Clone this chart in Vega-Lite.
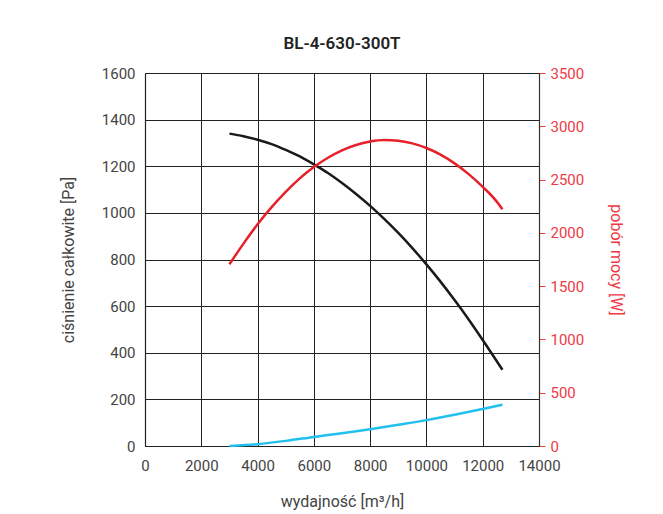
{
  "$schema": "https://vega.github.io/schema/vega-lite/v6.json",
  "width": 394,
  "height": 373,
  "autosize": "none",
  "padding": {"left": 145, "top": 73, "right": 124, "bottom": 68},
  "background": "white",
  "title": {"text": "BL-4-630-300T", "fontSize": 17, "fontWeight": 600, "font": "Roboto, sans-serif", "color": "#222222", "offset": 13, "anchor": "middle"},
  "config": {
    "view": {"stroke": null},
    "font": "Roboto, sans-serif",
    "axis": {"labelFontSize": 15, "titleFontSize": 16, "titleFontWeight": "normal", "labelColor": "#444444", "titleColor": "#444444", "labelOverlap": false, "labelFlush": false, "labelBound": false, "gridColor": "#222222", "gridOpacity": 1, "gridWidth": 1, "domainColor": "#222222", "domainWidth": 1.2, "format": "d"}
  },
  "datasets": {
    "left": [
      {"q": 3000, "v": 1340, "s": "ciśnienie"},
      {"q": 3500, "v": 1329, "s": "ciśnienie"},
      {"q": 4000, "v": 1314, "s": "ciśnienie"},
      {"q": 4500, "v": 1295, "s": "ciśnienie"},
      {"q": 5000, "v": 1270, "s": "ciśnienie"},
      {"q": 5500, "v": 1242, "s": "ciśnienie"},
      {"q": 6000, "v": 1208, "s": "ciśnienie"},
      {"q": 6500, "v": 1171, "s": "ciśnienie"},
      {"q": 7000, "v": 1128, "s": "ciśnienie"},
      {"q": 7500, "v": 1081, "s": "ciśnienie"},
      {"q": 8000, "v": 1030, "s": "ciśnienie"},
      {"q": 8500, "v": 974, "s": "ciśnienie"},
      {"q": 9000, "v": 914, "s": "ciśnienie"},
      {"q": 9500, "v": 849, "s": "ciśnienie"},
      {"q": 10000, "v": 779, "s": "ciśnienie"},
      {"q": 10500, "v": 705, "s": "ciśnienie"},
      {"q": 11000, "v": 626, "s": "ciśnienie"},
      {"q": 11500, "v": 543, "s": "ciśnienie"},
      {"q": 12000, "v": 455, "s": "ciśnienie"},
      {"q": 12700, "v": 327, "s": "ciśnienie"},
      {"q": 3000, "v": 0, "s": "dynamiczne"},
      {"q": 4000, "v": 8, "s": "dynamiczne"},
      {"q": 5000, "v": 22, "s": "dynamiczne"},
      {"q": 6000, "v": 39, "s": "dynamiczne"},
      {"q": 7000, "v": 55, "s": "dynamiczne"},
      {"q": 8000, "v": 72, "s": "dynamiczne"},
      {"q": 9000, "v": 91, "s": "dynamiczne"},
      {"q": 10000, "v": 111, "s": "dynamiczne"},
      {"q": 11000, "v": 134, "s": "dynamiczne"},
      {"q": 12000, "v": 159, "s": "dynamiczne"},
      {"q": 12700, "v": 177, "s": "dynamiczne"}
    ],
    "power": [
      {"q": 3000, "w": 1705},
      {"q": 3500, "w": 1899},
      {"q": 4000, "w": 2080},
      {"q": 4500, "w": 2242},
      {"q": 5000, "w": 2385},
      {"q": 5500, "w": 2511},
      {"q": 6000, "w": 2617},
      {"q": 6500, "w": 2705},
      {"q": 7000, "w": 2775},
      {"q": 7500, "w": 2825},
      {"q": 8000, "w": 2857},
      {"q": 8500, "w": 2871},
      {"q": 9000, "w": 2865},
      {"q": 9500, "w": 2840},
      {"q": 10000, "w": 2796},
      {"q": 10500, "w": 2734},
      {"q": 11000, "w": 2652},
      {"q": 11500, "w": 2551},
      {"q": 12000, "w": 2432},
      {"q": 12500, "w": 2293},
      {"q": 12700, "w": 2221}
    ]
  },
  "layer": [
    {
      "data": {"name": "left"},
      "mark": {"type": "line", "strokeWidth": 2.5, "interpolate": "monotone"},
      "encoding": {
        "x": {"field": "q", "type": "quantitative", "scale": {"domain": [0, 14000], "nice": false},
              "axis": {"values": [0, 2000, 4000, 6000, 8000, 10000, 12000, 14000], "format": "d", "grid": true, "ticks": false, "labelPadding": 12, "title": "wydajność [m³/h]", "titlePadding": 20}},
        "y": {"field": "v", "type": "quantitative", "scale": {"domain": [0, 1600], "nice": false},
              "axis": {"orient": "left", "values": [0, 200, 400, 600, 800, 1000, 1200, 1400, 1600], "format": "d", "grid": true, "ticks": false, "labelPadding": 10, "title": "ciśnienie całkowite [Pa]", "titlePadding": 25}},
        "color": {"field": "s", "type": "nominal", "scale": {"domain": ["ciśnienie", "dynamiczne"], "range": ["#1a1a1a", "#22c0ee"]}, "legend": null}
      }
    },
    {
      "data": {"name": "power"},
      "mark": {"type": "line", "strokeWidth": 2.5, "color": "#e8202a", "interpolate": "monotone"},
      "encoding": {
        "x": {"field": "q", "type": "quantitative", "scale": {"domain": [0, 14000], "nice": false}},
        "y": {"field": "w", "type": "quantitative", "scale": {"domain": [0, 3500], "nice": false},
              "axis": {"orient": "right", "values": [0, 500, 1000, 1500, 2000, 2500, 3000, 3500], "format": "d", "grid": false, "ticks": true, "tickColor": "#ee3a44", "tickSize": 6, "labelPadding": 5, "labelColor": "#ee3a44", "title": "pobór mocy [W]", "titleColor": "#ee3a44", "titlePadding": 24, "domainColor": "#333333"}}
      }
    }
  ],
  "resolve": {"scale": {"y": "independent"}}
}
